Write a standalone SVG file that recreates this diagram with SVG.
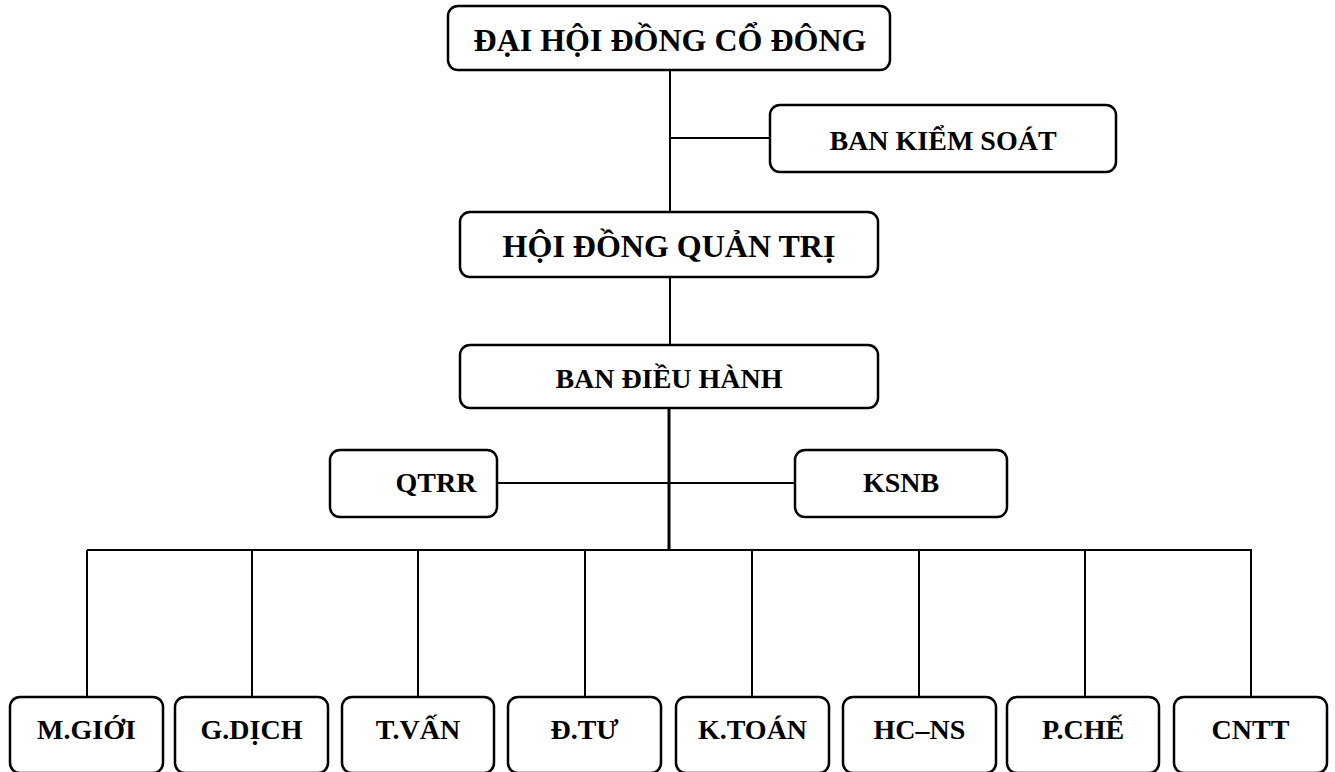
<svg xmlns="http://www.w3.org/2000/svg" width="1335" height="772" viewBox="0 0 1335 772">
<style>
.box{fill:#fff;stroke:#000;stroke-width:2.5}
.t{font-family:"Liberation Serif","Times New Roman",serif;font-weight:bold;fill:#000;text-anchor:middle}
.ln{stroke:#000;stroke-width:2;fill:none}
</style>
<rect width="1335" height="772" fill="#fff"/>
<g id="connectors">
<line class="ln" x1="670" y1="70" x2="670" y2="212"/>
<line class="ln" x1="670" y1="138" x2="770" y2="138"/>
<line class="ln" x1="670" y1="277" x2="670" y2="345"/>
<line class="ln" x1="669" y1="408" x2="669" y2="551" style="stroke-width:3"/>
<line class="ln" x1="497" y1="483" x2="795" y2="483"/>
<line class="ln" x1="87" y1="550" x2="1252" y2="550"/>
<line class="ln" x1="87" y1="550" x2="87" y2="697"/>
<line class="ln" x1="252" y1="550" x2="252" y2="697"/>
<line class="ln" x1="418" y1="550" x2="418" y2="697"/>
<line class="ln" x1="585" y1="550" x2="585" y2="697"/>
<line class="ln" x1="752" y1="550" x2="752" y2="697"/>
<line class="ln" x1="919" y1="550" x2="919" y2="697"/>
<line class="ln" x1="1085" y1="550" x2="1085" y2="697"/>
<line class="ln" x1="1251" y1="550" x2="1251" y2="697"/>
</g>
<g id="dhcd"><rect class="box" x="448" y="6" width="442" height="64" rx="10"/><text class="t" x="670" y="51" font-size="32">ĐẠI HỘI ĐỒNG CỔ ĐÔNG</text></g>
<g id="bks"><rect class="box" x="770" y="105" width="346" height="67" rx="10"/><text class="t" x="943" y="150" font-size="28">BAN KIỂM SOÁT</text></g>
<g id="hdqt"><rect class="box" x="460" y="212" width="418" height="65" rx="10"/><text class="t" x="669" y="257" font-size="32">HỘI ĐỒNG QUẢN TRỊ</text></g>
<g id="bdh"><rect class="box" x="460" y="345" width="418" height="63" rx="10"/><text class="t" x="669" y="388" font-size="28">BAN ĐIỀU HÀNH</text></g>
<g id="qtrr"><rect class="box" x="330" y="450" width="167" height="67" rx="10"/><text class="t" x="436" y="492" font-size="28">QTRR</text></g>
<g id="ksnb"><rect class="box" x="795" y="450" width="212" height="67" rx="10"/><text class="t" x="901" y="492" font-size="28">KSNB</text></g>
<g id="mgioi"><rect class="box" x="10" y="697" width="153" height="76" rx="10"/><text class="t" x="86.5" y="739" font-size="28">M.GIỚI</text></g>
<g id="gdich"><rect class="box" x="175" y="697" width="153" height="76" rx="10"/><text class="t" x="251.5" y="739" font-size="28">G.DỊCH</text></g>
<g id="tvan"><rect class="box" x="342" y="697" width="152" height="76" rx="10"/><text class="t" x="418" y="739" font-size="28">T.VẤN</text></g>
<g id="dtu"><rect class="box" x="508" y="697" width="153" height="76" rx="10"/><text class="t" x="584.5" y="739" font-size="28">Đ.TƯ</text></g>
<g id="ktoan"><rect class="box" x="676" y="697" width="153" height="76" rx="10"/><text class="t" x="752.5" y="739" font-size="28">K.TOÁN</text></g>
<g id="hcns"><rect class="box" x="843" y="697" width="153" height="76" rx="10"/><text class="t" x="919.5" y="739" font-size="28">HC–NS</text></g>
<g id="pche"><rect class="box" x="1007" y="697" width="152" height="76" rx="10"/><text class="t" x="1083" y="739" font-size="28">P.CHẾ</text></g>
<g id="cntt"><rect class="box" x="1174" y="697" width="153" height="76" rx="10"/><text class="t" x="1250.5" y="739" font-size="28">CNTT</text></g>
</svg>
